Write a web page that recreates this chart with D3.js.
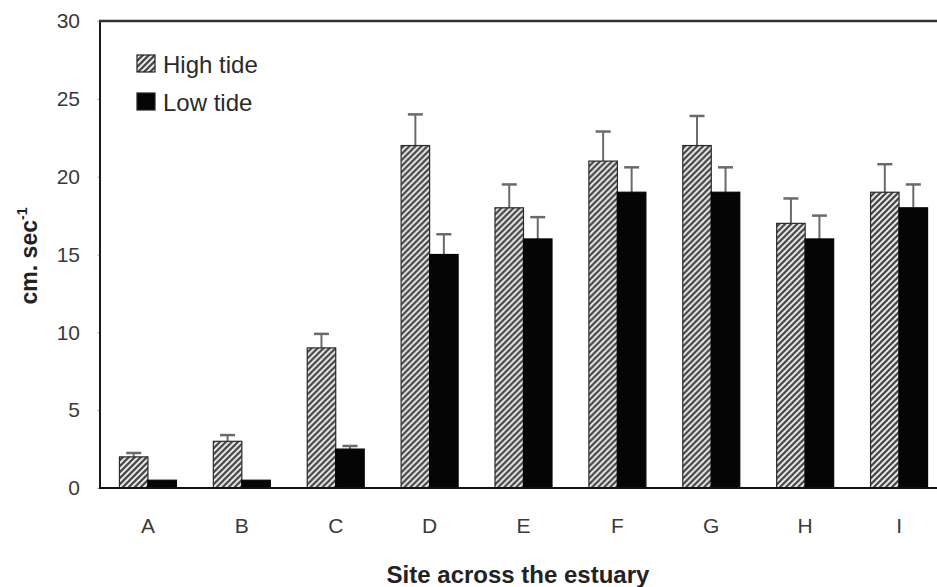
<!DOCTYPE html>
<html>
<head>
<meta charset="utf-8">
<script src="https://cdn.jsdelivr.net/npm/d3@7"></script>
<style>
  html, body { margin: 0; padding: 0; background: #fff; }
  svg { display: block; font-family: "Liberation Sans", Arial, sans-serif; }
</style>
</head>
<body>
<svg id="chart" width="937" height="587"></svg>
<script>
const sites = ["A", "B", "C", "D", "E", "F", "G", "H", "I"];
const highTide = [2, 3, 9, 22, 18, 21, 22, 17, 19];
const highErr  = [0.25, 0.4, 0.9, 2.0, 1.5, 1.9, 1.9, 1.6, 1.8];
const lowTide  = [0.5, 0.5, 2.5, 15, 16, 19, 19, 16, 18];
const lowErr   = [0, 0, 0.2, 1.3, 1.4, 1.6, 1.6, 1.5, 1.5];
const yTicks   = [0, 5, 10, 15, 20, 25, 30];
const seriesNames = ["High tide", "Low tide"];

(function () {
const svg = d3.select("#chart");
const mLeft = 100, mTop = 21, mBottom = 488, mRight = 946;

const defs = svg.append("defs");
const pat = defs.append("pattern")
  .attr("id", "hatch").attr("patternUnits", "userSpaceOnUse")
  .attr("width", 6).attr("height", 6);
pat.append("rect").attr("width", 6).attr("height", 6).attr("fill", "#f2f2f2");
pat.append("path")
  .attr("d", "M-1,1 l2,-2 M0,6 l6,-6 M5,7 l2,-2")
  .attr("stroke", "#4a4a4a").attr("stroke-width", 2.3);

const x = d3.scaleBand().domain(sites).range([mLeft + 1, mRight]).paddingInner(0).paddingOuter(0);
const y = d3.scaleLinear().domain([0, 30]).range([mBottom, mTop]);
const barW = 28.5;

const data = sites.map((s, i) => ({
  site: s,
  vals: [
    { k: 0, v: highTide[i], e: highErr[i] },
    { k: 1, v: lowTide[i], e: lowErr[i] }
  ]
}));

const g = svg.append("g");
const groups = g.selectAll("g.site").data(data).join("g")
  .attr("transform", d => `translate(${x(d.site) + x.bandwidth() / 2},0)`);

groups.selectAll("g.err").data(d => d.vals.filter(v => v.e > 0)).join("g")
  .each(function(d) {
    const cx = d.k === 0 ? -barW / 2 : barW / 2;
    const gg = d3.select(this);
    gg.append("line").attr("x1", cx).attr("x2", cx)
      .attr("y1", y(d.v)).attr("y2", y(d.v + d.e))
      .attr("stroke", "#6a6a6a").attr("stroke-width", 2);
    gg.append("line").attr("x1", cx - 7.5).attr("x2", cx + 7.5)
      .attr("y1", y(d.v + d.e)).attr("y2", y(d.v + d.e))
      .attr("stroke", "#6a6a6a").attr("stroke-width", 2.5);
  });

groups.selectAll("rect").data(d => d.vals).join("rect")
  .attr("x", d => d.k === 0 ? -barW : 0)
  .attr("width", barW)
  .attr("y", d => y(d.v))
  .attr("height", d => y(0) - y(d.v))
  .attr("fill", d => d.k === 0 ? "url(#hatch)" : "#050505")
  .attr("stroke", d => d.k === 0 ? "#2a2a2a" : "#050505")
  .attr("stroke-width", 1.2);

const yAxis = d3.axisLeft(y).tickValues(yTicks).tickSize(3).tickPadding(17);
const ya = svg.append("g").attr("transform", `translate(${mLeft},0)`).call(yAxis);
ya.select(".domain").remove();
ya.selectAll("line").attr("stroke", "#bbb");
ya.selectAll("text").attr("font-size", 21).attr("fill", "#3a3a3a")
  .attr("font-family", "Liberation Sans, Arial, sans-serif");

const xAxis = d3.axisBottom(x).tickSize(0).tickPadding(30);
const xa = svg.append("g").attr("transform", `translate(0,${mBottom})`).call(xAxis);
xa.select(".domain").remove();
xa.selectAll("text").attr("font-size", 21).attr("fill", "#3a3a3a")
  .attr("font-family", "Liberation Sans, Arial, sans-serif");

svg.append("line").attr("x1", mLeft).attr("x2", mLeft).attr("y1", mTop).attr("y2", mBottom + 1)
  .attr("stroke", "#1a1a1a").attr("stroke-width", 2);
svg.append("line").attr("x1", mLeft - 1).attr("x2", 937).attr("y1", mTop).attr("y2", mTop)
  .attr("stroke", "#333").attr("stroke-width", 2.5);
svg.append("line").attr("x1", mLeft - 1).attr("x2", 937).attr("y1", mBottom).attr("y2", mBottom)
  .attr("stroke", "#111").attr("stroke-width", 2);

svg.append("text").attr("x", 518).attr("y", 583).attr("text-anchor", "middle")
  .attr("font-size", 24).attr("font-weight", "bold").attr("fill", "#222")
  .text("Site across the estuary");

const yt = svg.append("text").attr("transform", "translate(37,256) rotate(-90)")
  .attr("text-anchor", "middle").attr("font-size", 23).attr("font-weight", "bold").attr("fill", "#222");
yt.append("tspan").text("cm. sec");
yt.append("tspan").attr("dy", -10).attr("font-size", 14).text("-1");

const leg = svg.append("g").attr("transform", "translate(137,55)");
seriesNames.forEach((name, i) => {
  const row = leg.append("g").attr("transform", `translate(0,${i * 38})`);
  row.append("rect").attr("width", 18).attr("height", 17)
    .attr("fill", i === 0 ? "url(#hatch)" : "#050505")
    .attr("stroke", "#222").attr("stroke-width", 1.2);
  row.append("text").attr("x", 26).attr("y", 17.5).attr("font-size", 24).attr("fill", "#2a2a2a")
    .text(name);
});
})();
</script>
</body>
</html>
